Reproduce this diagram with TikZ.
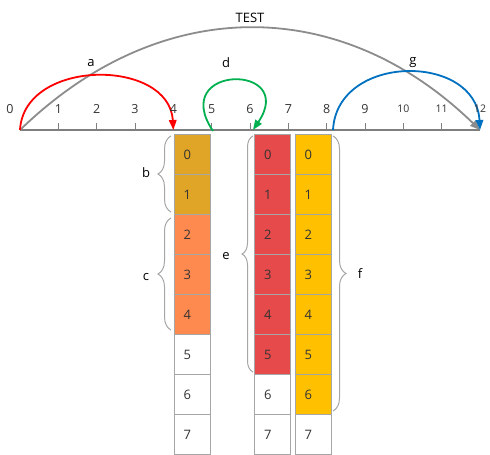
\documentclass[tikz,border=0pt]{standalone}
\usepackage{fontspec}
\setmainfont{Open Sans}
\usetikzlibrary{arrows.meta,decorations.pathreplacing,calc}
\definecolor{boxline}{HTML}{A6A6A6}
\definecolor{gold}{HTML}{E0A526}
\definecolor{coral}{HTML}{FF8A50}
\definecolor{redbox}{HTML}{E64A4A}
\definecolor{yellowbox}{HTML}{FFC000}
\definecolor{txt}{HTML}{333333}
\definecolor{axisgray}{HTML}{7F7F7F}
\definecolor{arcgray}{HTML}{8C8C8C}
\definecolor{arcred}{HTML}{FF0000}
\definecolor{arcgreen}{HTML}{00B050}
\definecolor{arcblue}{HTML}{0070C0}
\tikzset{
  cell/.style={draw=boxline, line width=1pt, minimum width=36pt, minimum height=40pt,
    text width=17pt, align=left, inner xsep=9.5pt, inner ysep=0pt, outer sep=0pt,
    text=txt, font=\fontsize{13}{15}\selectfont},
  lbl/.style={text=black, font=\fontsize{13}{15}\selectfont, inner sep=1pt},
  axlbl/.style={text=txt, font=\fontsize{12.5}{14}\selectfont, inner sep=0pt},
  axsmall/.style={text=txt, font=\fontsize{10.5}{12}\selectfont, inner sep=0pt},
  arcline/.style={line width=1.8pt, -{Triangle[length=10pt,width=7.5pt]}},
  bracestyle/.style={draw=boxline, line width=1pt, decorate},
}
\begin{document}
\begin{tikzpicture}[x=1pt,y=-1pt]
\useasboundingbox (0,0) rectangle (490,455);
% axis
\foreach \i in {0,...,12}{
  \coordinate (t\i) at ({20+38.333*\i},130);
}
\draw[axisgray, line width=1.3pt] (t0) -- (t12);
\foreach \i in {1,...,11}{
  \draw[axisgray, line width=1pt] (t\i) -- ++(0,-7);
}
% cells
\foreach \r in {0,...,7}{
  \pgfmathsetmacro{\yy}{154.5+40*\r}
  \ifnum\r<2 \def\ca{gold}\else\ifnum\r<5 \def\ca{coral}\else\def\ca{white}\fi\fi
  \ifnum\r<6 \def\cb{redbox}\else\def\cb{white}\fi
  \ifnum\r<7 \def\cc{yellowbox}\else\def\cc{white}\fi
  \node[cell, fill=\ca] (A\r) at (192,\yy) {\r};
  \node[cell, fill=\cb] (R\r) at (272.5,\yy) {\r};
  \node[cell, fill=\cc] (Y\r) at (313,\yy) {\r};
}
% braces
\coordinate (bb) at (171,212);
\coordinate (bt) at (171,136);
\coordinate (cb) at (171,330);
\coordinate (ct) at (171,218);
\coordinate (eb) at (253,372);
\coordinate (et) at (253,136);
\coordinate (ft) at (333,136);
\coordinate (fb) at (333,411);
\draw[bracestyle, decoration={brace, amplitude=13pt}] (bb) -- (bt);
\draw[bracestyle, decoration={brace, amplitude=13pt}] (cb) -- (ct);
\draw[bracestyle, decoration={brace, amplitude=11pt}] (eb) -- (et);
\draw[bracestyle, decoration={brace, amplitude=13pt}] (ft) -- (fb);
\node[lbl] (lb) at (146,173) {b};
\node[lbl] (lc) at (146,277) {c};
\node[lbl] (le) at (226,256) {e};
\node[lbl] (lf) at (360,274) {f};
% arcs
\draw[arcline, arcgray] (t0) .. controls +(140,-136) and +(-140,-136) .. (t12);
\draw[arcline, arcred] (t0) .. controls +(4,-72) and +(-4,-72) .. (t4);
\coordinate (d0) at (213,131);
\coordinate (d1) at (253,130);
\draw[arcline, arcgreen] (d0) .. controls +(-45,-67) and +(45,-67) .. (d1);
\coordinate (g0) at (333,130);
\draw[arcline, arcblue] (g0) .. controls +(4,-77) and +(-4,-77) .. (t12);
\node[lbl] (la) at (91,63) {a};
\node[lbl] (ld) at (226,63) {d};
\node[lbl] (lg) at (413,63) {g};
\node[lbl] (ltest) at (250,18) {TEST};
% axis labels
\node[axlbl] (n0) at (10,109) {0};
\foreach \i in {1,...,9}{
  \node[axlbl] (n\i) at ($(t\i)+(0,-21)$) {\i};
}
\foreach \i in {10,11,12}{
  \node[axsmall] (n\i) at ($(t\i)+(0,-21)$) {\i};
}
\end{tikzpicture}
\end{document}
